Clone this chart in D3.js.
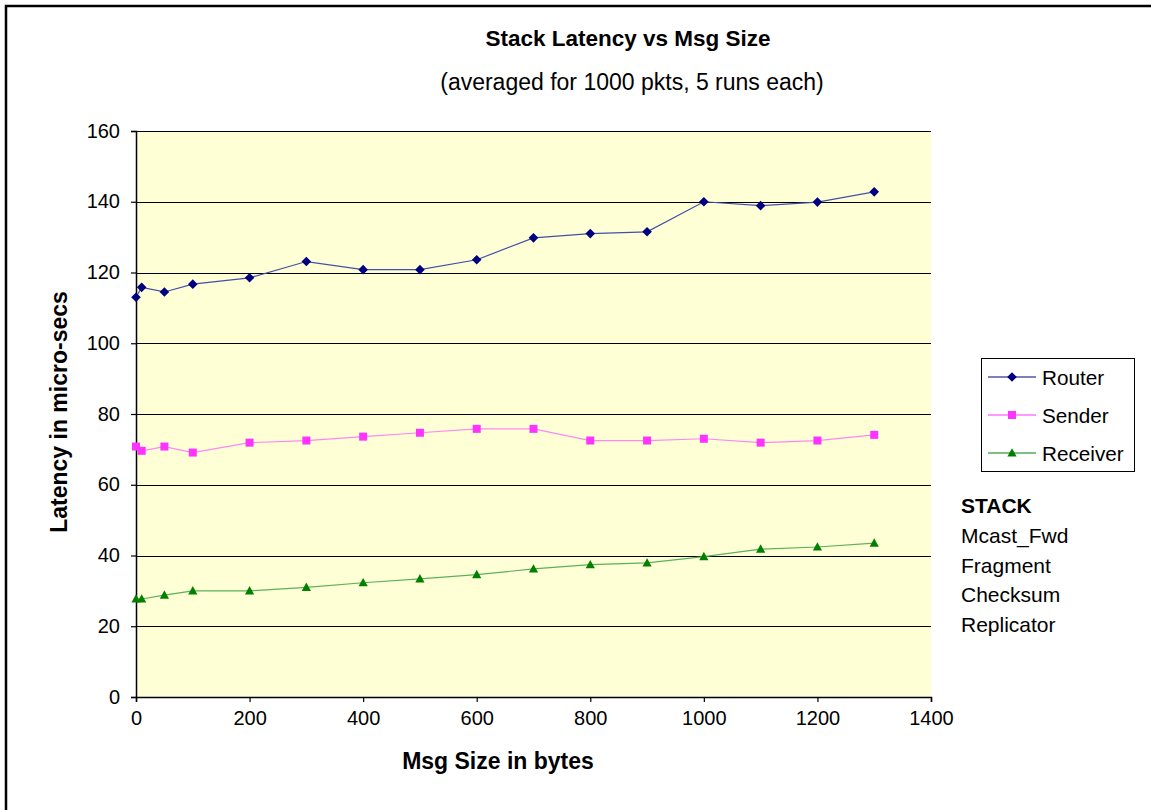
<!DOCTYPE html>
<html>
<head>
<meta charset="utf-8">
<script src="https://cdn.jsdelivr.net/npm/d3@7"></script>
<style>
  html, body { margin: 0; padding: 0; background: #ffffff; }
  svg { display: block; font-family: "Liberation Sans", Arial, sans-serif; }
</style>
</head>
<body>
<svg id="chart" width="1151" height="810"></svg>
<script>
// Message sizes (bytes)
const msgSizes = [0, 10, 50, 100, 200, 300, 400, 500, 600, 700, 800, 900, 1000, 1100, 1200, 1300];
// Latency in micro-seconds for each role
const routerLatency   = [113, 115.8, 114.5, 116.7, 118.5, 123.1, 120.8, 120.8, 123.6, 129.8, 131, 131.5, 140, 138.9, 139.9, 142.8];
const senderLatency   = [70.8, 69.6, 70.8, 69.1, 71.9, 72.5, 73.6, 74.7, 75.8, 75.8, 72.5, 72.5, 73.0, 71.9, 72.5, 74.1];
const receiverLatency = [27.7, 27.7, 28.8, 30.0, 30.0, 31.0, 32.3, 33.4, 34.6, 36.2, 37.4, 37.9, 39.7, 41.8, 42.4, 43.5];
const seriesNames = ["Router", "Sender", "Receiver"];
const stackLayers = ["Mcast_Fwd", "Fragment", "Checksum", "Replicator"];
const yTicks = [0, 20, 40, 60, 80, 100, 120, 140, 160];
const xTicks = [0, 200, 400, 600, 800, 1000, 1200, 1400];

const series = [
  { name: seriesNames[0], values: routerLatency,   color: "#000080", line: "#4050a8", shape: "diamond" },
  { name: seriesNames[1], values: senderLatency,   color: "#FF33FF", line: "#ff88f0", shape: "square" },
  { name: seriesNames[2], values: receiverLatency, color: "#008000", line: "#5cb05c", shape: "triangle" }
];

const svg = d3.select("#chart");

// Outer frame
svg.append("rect")
  .attr("x", 6).attr("y", 6).attr("width", 1160).attr("height", 820)
  .attr("fill", "#ffffff").attr("stroke", "#000").attr("stroke-width", 2.5);

const plot = { left: 136, top: 131, right: 931, bottom: 697 };

const x = d3.scaleLinear().domain([0, 1400]).range([plot.left, plot.right]);
const y = d3.scaleLinear().domain([0, 160]).range([plot.bottom, plot.top]);

// Plot background
svg.append("rect")
  .attr("x", plot.left).attr("y", plot.top)
  .attr("width", plot.right - plot.left).attr("height", plot.bottom - plot.top)
  .attr("fill", "#FFFFD6");

// Horizontal gridlines
svg.append("g").selectAll("line")
  .data(yTicks.filter(d => d > 0))
  .join("line")
  .attr("x1", plot.left).attr("x2", plot.right)
  .attr("y1", d => Math.round(y(d)) + 0.5).attr("y2", d => Math.round(y(d)) + 0.5)
  .attr("stroke", "#000").attr("stroke-width", 1);

// Axes
const yAxis = d3.axisLeft(y).tickValues(yTicks).tickSize(5).tickPadding(11);
const xAxis = d3.axisBottom(x).tickValues(xTicks).tickFormat(d3.format("d")).tickSize(5).tickPadding(9);

const gy = svg.append("g").attr("transform", `translate(${plot.left},0)`).call(yAxis);
const gx = svg.append("g").attr("transform", `translate(0,${plot.bottom})`).call(xAxis);

[gx, gy].forEach(g => {
  g.select(".domain").attr("stroke", "#000").attr("stroke-width", 1.5);
  g.selectAll(".tick line").attr("stroke", "#000").attr("stroke-width", 1.2);
  g.selectAll(".tick text")
    .attr("fill", "#000")
    .style("font-family", "'Liberation Sans', Arial, sans-serif")
    .style("font-size", "20px");
});
gy.selectAll(".tick text").attr("dy", "0.3em");

// Line generator
const line = d3.line()
  .x((d, i) => x(msgSizes[i]))
  .y(d => y(d));

// Marker shapes
const markerPath = shape => {
  if (shape === "diamond") return "M0,-4.8L4.8,0L0,4.8L-4.8,0Z";
  if (shape === "square") return "M-4,-4H4V4H-4Z";
  return "M0,-4.8L4.6,3.6H-4.6Z";
};

series.forEach(s => {
  svg.append("path")
    .datum(s.values)
    .attr("d", line)
    .attr("fill", "none")
    .attr("stroke", s.line)
    .attr("stroke-width", 1.2);

  svg.append("g").selectAll("path")
    .data(s.values)
    .join("path")
    .attr("transform", (d, i) => `translate(${x(msgSizes[i])},${y(d)})`)
    .attr("d", markerPath(s.shape))
    .attr("fill", s.color);
});

// Titles
svg.append("text")
  .attr("x", 628).attr("y", 46)
  .attr("text-anchor", "middle")
  .style("font-weight", "bold").style("font-size", "22.5px")
  .text("Stack Latency vs Msg Size");

svg.append("text")
  .attr("x", 632).attr("y", 90)
  .attr("text-anchor", "middle")
  .style("font-size", "23px")
  .text("(averaged for 1000 pkts, 5 runs each)");

// Axis titles
svg.append("text")
  .attr("transform", `translate(67,412) rotate(-90)`)
  .attr("text-anchor", "middle")
  .style("font-weight", "bold").style("font-size", "23px")
  .text("Latency in micro-secs");

svg.append("text")
  .attr("x", 498).attr("y", 769)
  .attr("text-anchor", "middle")
  .style("font-weight", "bold").style("font-size", "23px")
  .text("Msg Size in bytes");

// Legend
const legend = svg.append("g");
legend.append("rect")
  .attr("x", 981.5).attr("y", 358.5).attr("width", 153).attr("height", 113)
  .attr("fill", "#fff").attr("stroke", "#000").attr("stroke-width", 1);

const legendRows = [377, 415, 453];
series.forEach((s, i) => {
  const ly = legendRows[i];
  legend.append("line")
    .attr("x1", 988).attr("x2", 1036).attr("y1", ly).attr("y2", ly)
    .attr("stroke", s.color).attr("stroke-width", 1.2);
  legend.append("path")
    .attr("transform", `translate(1012,${ly})`)
    .attr("d", markerPath(s.shape))
    .attr("fill", s.color);
  legend.append("text")
    .attr("x", 1042).attr("y", ly + 7.5)
    .style("font-size", "20.7px")
    .text(s.name);
});

// Stack layer notes
svg.append("text")
  .attr("x", 961).attr("y", 513)
  .style("font-weight", "bold").style("font-size", "21px")
  .text("STACK");

svg.append("g").selectAll("text")
  .data(stackLayers)
  .join("text")
  .attr("x", 961)
  .attr("y", (d, i) => 543 + i * 29.7)
  .style("font-size", "21px")
  .text(d => d);
</script>
</body>
</html>
